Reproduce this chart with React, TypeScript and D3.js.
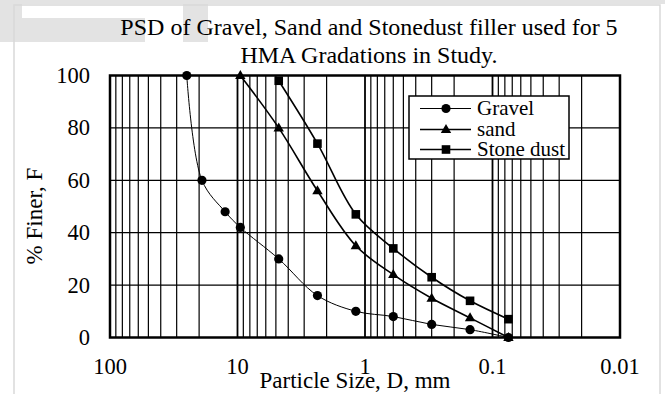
import React from "react";
import * as d3 from "d3";

const sizes = [25, 19, 12.5, 9.5, 4.75, 2.36, 1.18, 0.6, 0.3, 0.15, 0.075];
const gravel = [100, 60, 48, 42, 30, 16, 10, 8, 5, 3, 0];
const sandSizes = [9.5, 4.75, 2.36, 1.18, 0.6, 0.3, 0.15, 0.075];
const sand = [100, 80, 56, 35, 24, 15, 7.5, 0];
const dustSizes = [4.75, 2.36, 1.18, 0.6, 0.3, 0.15, 0.075];
const dust = [98, 74, 47, 34, 23, 14, 7];
const xTicks = [100, 10, 1, 0.1, 0.01];
const yTicks = [0, 20, 40, 60, 80, 100];
const titleLines = ["PSD of Gravel, Sand and Stonedust filler used for 5", "HMA Gradations in Study."];
const legendLabels = ["Gravel", "sand", "Stone dust"];

const W = 665, H = 394;
const L = 110, R = 620, T = 75.5, B = 337.5;
const font = "'Liberation Serif', 'Times New Roman', serif";

export default function App() {
  const x = d3.scaleLog().domain([100, 0.01]).range([L, R]);
  const y = d3.scaleLinear().domain([0, 100]).range([B, T]);
  const minor: number[] = [];
  for (let e = -2; e < 2; e++) {
    for (let m = 2; m <= 9; m++) minor.push(m * Math.pow(10, e));
  }
  const line = d3.line<[number, number]>().x(d => d[0]).y(d => d[1]).curve(d3.curveCatmullRom.alpha(0.5));
  const series = [
    { xs: sizes, ys: gravel, w: 1, marker: "circle" },
    { xs: sandSizes, ys: sand, w: 1.6, marker: "tri" },
    { xs: dustSizes, ys: dust, w: 1.6, marker: "sq" },
  ];
  const marker = (m: string, cx: number, cy: number, key: any) => {
    if (m === "circle") return <circle key={key} cx={cx} cy={cy} r={4.6} fill="#000" />;
    if (m === "tri") return <path key={key} d={`M${cx},${cy - 5.5}L${cx + 5.2},${cy + 3.5}L${cx - 5.2},${cy + 3.5}Z`} fill="#000" />;
    return <rect key={key} x={cx - 4.3} y={cy - 4.3} width={8.6} height={8.6} fill="#000" />;
  };
  const legX = 409, legY = 96;
  const legRows = [108.5, 129.5, 149.5];
  return (
    <svg width={W} height={H} style={{ position: "absolute", left: 0, top: 0, background: "#fff" }} fontFamily={font}>
      <g fill="#e3e3e3">
        <rect x={0} y={0} width={665} height={4} />
        <rect x={0} y={0} width={22} height={42} />
        <rect x={0} y={18} width={145} height={24} />
        <rect x={183} y={0} width={25} height={42} />
      </g>
      <rect x={14} y={5} width={646} height={400} fill="none" stroke="#d9d9d9" strokeWidth={1.5} />
      {minor.map((v, i) => (
        <line key={"m" + i} x1={x(v)} x2={x(v)} y1={T} y2={B} stroke="#000" strokeWidth={1.2} />
      ))}
      {xTicks.map((v, i) => (
        <line key={"M" + i} x1={x(v)} x2={x(v)} y1={T} y2={B} stroke="#000" strokeWidth={1.8} />
      ))}
      {yTicks.map((v, i) => (
        <line key={"h" + i} x1={L} x2={R} y1={y(v)} y2={y(v)} stroke="#000" strokeWidth={1.2} />
      ))}
      <rect x={L} y={T} width={R - L} height={B - T} fill="none" stroke="#000" strokeWidth={2.5} />
      {series.map((s, si) => {
        const pts: [number, number][] = s.xs.map((v, i) => [x(v), y(s.ys[i])]);
        return (
          <g key={"s" + si}>
            <path d={line(pts) || ""} fill="none" stroke="#000" strokeWidth={s.w} />
            {pts.map((p, i) => marker(s.marker, p[0], p[1], i))}
          </g>
        );
      })}
      <rect x={legX} y={legY} width={160} height={63} fill="#fff" stroke="#000" strokeWidth={1.5} />
      {series.map((s, i) => {
        const ly = legRows[i];
        return (
          <g key={"l" + i}>
            <line x1={legX + 11} x2={legX + 62} y1={ly} y2={ly} stroke="#000" strokeWidth={s.w} />
            {marker(s.marker, legX + 37, ly, "lm" + i)}
            <text x={legX + 68} y={ly + 6.5} fontSize={21}>{legendLabels[i]}</text>
          </g>
        );
      })}
      {yTicks.map((v, i) => (
        <text key={"yt" + i} x={90} y={y(v) + 7.5} fontSize={22.5} textAnchor="end">{v}</text>
      ))}
      {xTicks.map((v, i) => (
        <text key={"xt" + i} x={x(v)} y={374} fontSize={22.5} textAnchor="middle">{String(v)}</text>
      ))}
      <text x={355} y={387.5} fontSize={23} textAnchor="middle">Particle Size, D, mm</text>
      <text transform="translate(42,216) rotate(-90)" fontSize={23} textAnchor="middle">% Finer, F</text>
      {titleLines.map((t, i) => (
        <text key={"t" + i} x={369} y={35 + i * 28} fontSize={24} textAnchor="middle">{t}</text>
      ))}
    </svg>
  );
}
